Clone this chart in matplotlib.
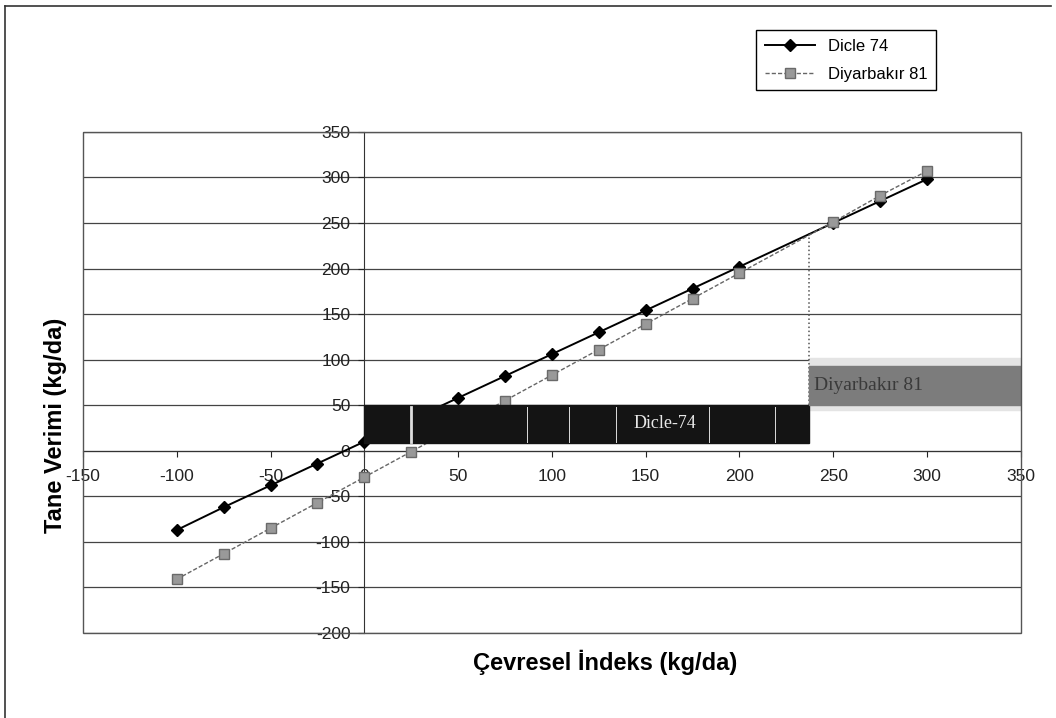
import matplotlib
matplotlib.use("Agg")
import matplotlib.pyplot as plt
from matplotlib.patches import Rectangle
from matplotlib.lines import Line2D

plt.rcParams['font.family'] = ['Liberation Sans', 'DejaVu Sans']
plt.rcParams['axes.unicode_minus'] = False

# cevresel indeks (x) and yields
indeks = [-100, -75, -50, -25, 0, 25, 50, 75, 100, 125, 150, 175, 200, 250, 275, 300]
dicle74 = [-87, -62, -38, -14, 10, 34, 58, 82, 106, 130, 154, 178, 202, 250, 274, 298]
diyarbakir81 = [-141, -113, -85, -57, -29, -1, 27, 55, 83, 111, 139, 167, 195, 251, 280, 307]
x_ticks = [-150, -100, -50, 0, 50, 100, 150, 200, 250, 300, 350]
y_ticks = [-200, -150, -100, -50, 0, 50, 100, 150, 200, 250, 300, 350]
kesisim_x = 237
kesisim_y = 240

fig = plt.figure(figsize=(10.56, 7.18), dpi=100)
ax = fig.add_axes([0.0786, 0.1184, 0.888, 0.698])

ax.plot(indeks, dicle74, color='black', lw=1.4, marker='D', ms=6.5,
        mfc='black', mec='black', label='Dicle 74', zorder=3)
ax.plot(indeks, diyarbakir81, color='#666666', lw=1.0, ls=(0, (3, 1.5)),
        marker='s', ms=7.5, mfc='#999999', mec='#6a6a6a', label='Diyarbakır 81', zorder=3)

# boxes
ax.add_patch(Rectangle((0, 9), kesisim_x, 41, color='#141414', zorder=4))
for xv, lw in [(25, 2.0), (87, 0.7), (109, 0.7), (134, 0.7), (184, 0.7), (219, 0.7)]:
    ax.plot([xv, xv], [10, 48], color='#dddddd', lw=lw, zorder=4.5)
ax.text(160, 30, 'Dicle-74', color='#e8e8e8', family='Liberation Serif',
        fontsize=13, ha='center', va='center', zorder=5)

ax.add_patch(Rectangle((kesisim_x, 45), 350 - kesisim_x, 57, color='#e4e4e4', zorder=1.5))
ax.add_patch(Rectangle((kesisim_x, 50), 350 - kesisim_x, 43, color='#7c7c7c', zorder=4))
ax.text(kesisim_x + 3, 72, 'Diyarbakır 81', color='#3a3a3a', family='Liberation Serif',
        fontsize=14, ha='left', va='center', zorder=5)

ax.plot([kesisim_x, kesisim_x], [50, kesisim_y], color='#555555', lw=1.1, ls=':', zorder=2)

ax.set_xlim(-150, 350)
ax.set_ylim(-200, 350)
ax.set_xticks(x_ticks)
ax.set_yticks(y_ticks)
ax.yaxis.grid(True, color='#444444', lw=0.9)
ax.set_axisbelow(True)

ax.spines['left'].set_position(('data', 0))
ax.spines['bottom'].set_position(('data', 0))
ax.spines['right'].set_visible(False)
ax.spines['top'].set_visible(False)
ax.spines['left'].set_color('#333333')
ax.spines['bottom'].set_color('#333333')
ax.tick_params(axis='both', direction='out', length=4, width=0.8, colors='#222222',
               labelsize=12.5)
ax.tick_params(axis='x', pad=9)
ax.tick_params(axis='y', pad=6)
ax.add_patch(Rectangle((0, 0), 1, 1, transform=ax.transAxes, fill=False,
                       ec='#555555', lw=1.0, zorder=6, clip_on=False))

fig.text(0.573, 0.077, 'Çevresel İndeks (kg/da)', fontsize=17, fontweight='bold',
         ha='center', va='center')
fig.text(0.053, 0.408, 'Tane Verimi (kg/da)', fontsize=17, fontweight='bold',
         rotation=90, ha='center', va='center')

ax.legend(loc='upper left', bbox_to_anchor=(748 / 1056, 1 - 22 / 718),
          bbox_transform=fig.transFigure, fancybox=False, edgecolor='black',
          framealpha=1, fontsize=12, handlelength=3, borderpad=0.5, labelspacing=0.8)

# outer frame
fig.add_artist(Line2D([0.005, 0.995], [0.992, 0.992], color='#333333', lw=1.2))
fig.add_artist(Line2D([0.005, 0.005], [0.0, 0.992], color='#333333', lw=1.2))

fig.savefig('out.png', dpi=100)
